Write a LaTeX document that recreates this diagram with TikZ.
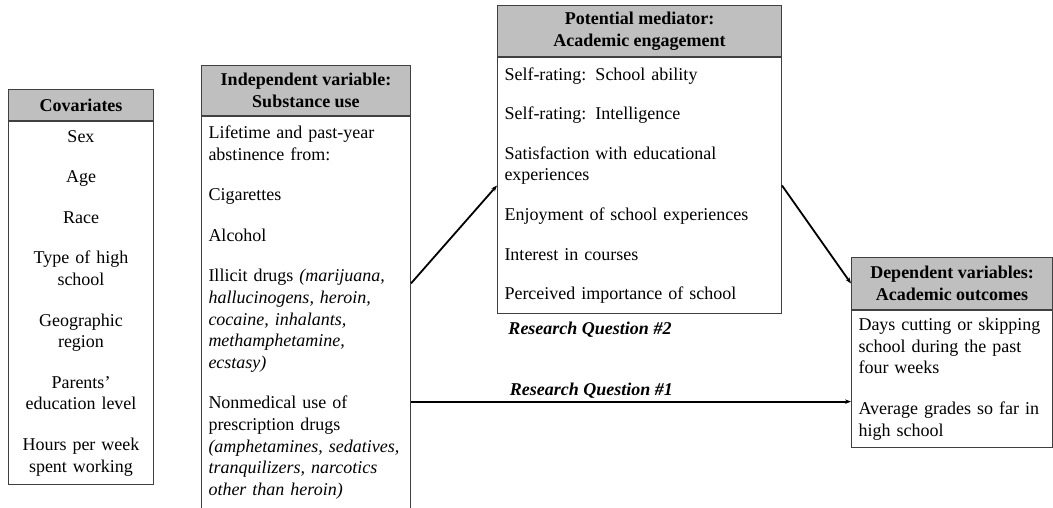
\documentclass[tikz,border=0pt]{standalone}
\usepackage{fontspec}
\setmainfont{Liberation Serif}
\usetikzlibrary{arrows.meta}
\usetikzlibrary{calc}

\begin{document}
\begin{tikzpicture}[x=1pt,y=-1pt,
        head/.style={draw=black!75,line width=1pt,fill=gray!50,anchor=north west,align=center,inner sep=0pt,font=\bfseries\fontsize{18}{21.6}\selectfont},
        body/.style={draw=black!75,line width=1pt,anchor=north west,inner xsep=7pt,inner ysep=0pt,font=\fontsize{18}{21.6}\selectfont},
        link/.style={line width=1.8pt,-{Stealth[length=6pt,width=4.5pt]}},
        rq/.style={inner sep=2pt,font=\bfseries\itshape\fontsize{18}{21.6}\selectfont}]
        \useasboundingbox (0,0) rectangle (1053,508);

        \node[head,minimum width=145,minimum height=31] (covhead) at (8,89) {Covariates};
        \node[body,minimum width=145,minimum height=363,text width=131,align=center] (covbody) at (covhead.south west)
            {Sex\\[19pt]Age\\[19pt]Race\\[19pt]Type of high\\school\\[19pt]Geographic\\region\\[19pt]Parents’\\education level\\[19pt]Hours per week\\spent working};

        \node[head,minimum width=209,minimum height=50] (ivhead) at (201,65) {Independent variable:\\Substance use};
        \node[body,minimum width=209,minimum height=392,text width=195,align=left] (ivbody) at (ivhead.south west)
            {Lifetime and past-year\\abstinence from:\\[19pt]Cigarettes\\[19pt]Alcohol\\[19pt]Illicit drugs \textit{(marijuana,}\\\textit{hallucinogens, heroin,}\\\textit{cocaine, inhalants,}\\\textit{methamphetamine,}\\\textit{ecstasy)}\\[19pt]Nonmedical use of\\prescription drugs\\\textit{(amphetamines, sedatives,}\\\textit{tranquilizers, narcotics}\\\textit{other than heroin)}};

        \node[head,minimum width=284,minimum height=51] (medhead) at (497,5) {Potential mediator:\\Academic engagement};
        \node[body,minimum width=284,minimum height=256,text width=270,align=left] (medbody) at (medhead.south west)
            {Self-rating: School ability\\[18pt]Self-rating: Intelligence\\[18pt]Satisfaction with educational\\experiences\\[18pt]Enjoyment of school experiences\\[18pt]Interest in courses\\[18pt]Perceived importance of school};

        \node[head,minimum width=201,minimum height=52] (dvhead) at (851,257) {Dependent variables:\\Academic outcomes};
        \node[body,minimum width=201,minimum height=137,text width=187,align=left] (dvbody) at (dvhead.south west)
            {Days cutting or skipping\\school during the past\\four weeks\\[19pt]Average grades so far in\\high school};

        \draw[link] ($(ivbody.north east)!0.426!(ivbody.south east)$) -- (medbody.west);
        \draw[link] (medbody.east) -- (dvhead.west);
        \coordinate (rqend) at ($(dvbody.north west)!0.664!(dvbody.south west)$);
        \draw[link] (ivbody.east |- rqend) -- (rqend) node[rq,above,pos=0.41] (rqone) {Research Question \#1};
        \node[rq] (rqtwo) at (590,330) {Research Question \#2};
    \end{tikzpicture}
\end{document}
